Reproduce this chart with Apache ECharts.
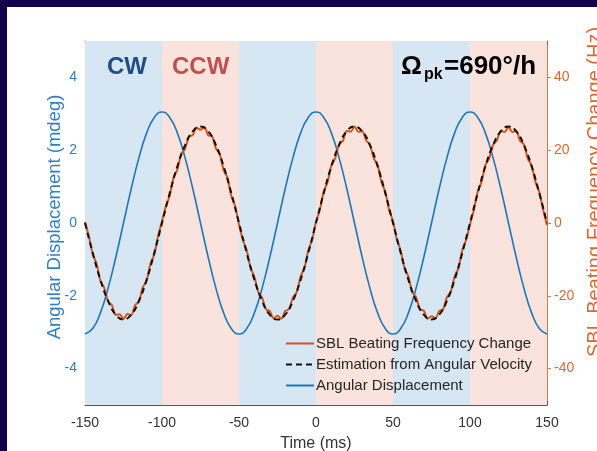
<!DOCTYPE html>
<html>
<head>
<meta charset="utf-8">
<script src="https://cdn.jsdelivr.net/npm/echarts@6/dist/echarts.min.js"></script>
<style>
  html, body { margin: 0; padding: 0; background: #ffffff; }
  #chart { width: 597px; height: 451px; }
</style>
</head>
<body>
<div id="chart"></div>
<script>
// Rotation direction bands (ms)
const bandStarts = [-150, -100, -50, 0, 50, 100];
const bandEnds   = [-100, -50, 0, 50, 100, 150];
const bandKinds  = ['CW', 'CCW', 'CW', 'CCW', 'CW', 'CCW'];

// Axis tick labels
const xTicks = [-150, -100, -50, 0, 50, 100, 150];
const leftTicks = [-4, -2, 0, 2, 4];
const rightTicks = [-40, -20, 0, 20, 40];

// Angular displacement (mdeg), sampled every 5 ms from -150 to 150
const displacement = [
  -3.05, -2.90, -2.47, -1.79, -0.94, 0.00, 0.94, 1.79, 2.47, 2.90,
   3.05,  2.90,  2.47,  1.79,  0.94, 0.00, -0.94, -1.79, -2.47, -2.90,
  -3.05, -2.90, -2.47, -1.79, -0.94, 0.00, 0.94, 1.79, 2.47, 2.90,
   3.05,  2.90,  2.47,  1.79,  0.94, 0.00, -0.94, -1.79, -2.47, -2.90,
  -3.05, -2.90, -2.47, -1.79, -0.94, 0.00, 0.94, 1.79, 2.47, 2.90,
   3.05,  2.90,  2.47,  1.79,  0.94, 0.00, -0.94, -1.79, -2.47, -2.90,
  -3.05
];

// Estimated frequency change from angular velocity (Hz), every 5 ms
const estimation = [
  0, -8.2, -15.6, -21.4, -25.2, -26.5, -25.2, -21.4, -15.6, -8.2,
  0,  8.2,  15.6,  21.4,  25.2,  26.5,  25.2,  21.4,  15.6,  8.2,
  0, -8.2, -15.6, -21.4, -25.2, -26.5, -25.2, -21.4, -15.6, -8.2,
  0,  8.2,  15.6,  21.4,  25.2,  26.5,  25.2,  21.4,  15.6,  8.2,
  0, -8.2, -15.6, -21.4, -25.2, -26.5, -25.2, -21.4, -15.6, -8.2,
  0,  8.2,  15.6,  21.4,  25.2,  26.5,  25.2,  21.4,  15.6,  8.2,
  0
];

// Measured SBL beating frequency change (Hz), every 2.5 ms
const beating = [
   0.3, -3.6, -8.5, -11.2, -15.9, -17.8, -21.6, -22.6, -25.3, -25.1,
  -26.4, -25.0, -25.3, -22.6, -21.6, -17.7, -15.9, -11.2, -8.6, -3.5,
   0.5,  4.6,  7.5,  12.4,  14.7,  19.0,  20.4,  23.7,  24.2,  26.2,
   25.6, 26.3, 24.1,  23.8,  20.5,  18.9,  14.6,  12.4,  7.4,  4.6,
  -0.4, -4.6, -7.5, -12.3, -14.8, -18.9, -20.5, -23.7, -24.2, -26.2,
  -25.5, -26.3, -24.2, -23.6, -20.5, -19.0, -14.7, -12.3, -7.5, -4.6,
   0.4,  3.6,  8.6,  11.2,  15.8,  17.8,  21.6,  22.6,  25.3,  25.1,
   26.5, 25.1, 25.2,  22.7,  21.5,  17.8,  15.9,  11.2,  8.6,  3.5,
   0.5, -4.5, -7.6, -12.4, -14.7, -19.0, -20.4, -23.7, -24.1, -26.3,
  -25.6, -26.2, -24.2, -23.7, -20.4, -18.9, -14.7, -12.4, -7.4, -4.6,
  -0.4,  3.5,  8.6,  11.3,  15.9,  17.8,  21.5,  22.7,  25.3,  25.0,
   26.4, 25.0, 25.3,  22.6,  21.6,  17.7,  15.8,  11.3,  8.5,  3.6,
  -0.6
];

// Sampling grids (ms)
const tCoarse = displacement.map((_, i) => -150 + 5 * i);
const tFine = beating.map((_, i) => -150 + 2.5 * i);
const pair = (ts, vs) => ts.map((t, i) => [t, vs[i]]);

const C_BLUE = '#1f77b8';
const C_ORANGE = '#d95319';
const C_BLUE_TXT = '#2f7fc1';
const C_ORANGE_TXT = '#d9692e';
const BAND_COLORS = { CW: '#d6e6f3', CCW: '#fae3dc' };
const FONT = '"Liberation Sans", Arial, sans-serif';

const chart = echarts.init(document.getElementById('chart'));

chart.setOption({
  backgroundColor: '#ffffff',
  animation: false,
  grid: { left: 85, right: 50, top: 41, bottom: 46, show: false, outerBoundsMode: 'none', containLabel: false },
  legend: {
    orient: 'vertical',
    left: 280,
    top: 331,
    itemWidth: 28,
    itemHeight: 14,
    itemGap: 6,
    itemStyle: { opacity: 0 },
    textStyle: { fontFamily: FONT, fontSize: 15, color: '#262626', padding: [0, 0, 0, -3] },
    data: ['SBL Beating Frequency Change', 'Estimation from Angular Velocity', 'Angular Displacement']
  },
  xAxis: [{
    type: 'value', min: -150, max: 150, interval: 50,
    name: 'Time (ms)', nameLocation: 'middle', nameGap: 31, nameMoveOverlap: false,
    nameTextStyle: { fontFamily: FONT, fontSize: 16, color: '#333' },
    axisLine: { show: true, onZero: false, lineStyle: { color: '#555', width: 1 } },
    axisTick: { show: true, inside: true, length: 4, lineStyle: { color: '#555' } },
    axisLabel: { fontFamily: FONT, fontSize: 14, color: '#333', margin: 11 },
    splitLine: { show: false }
  }, {
    type: 'value', min: -150, max: 150, interval: 50, position: 'top',
    axisLine: { show: true, onZero: false, lineStyle: { color: '#666', width: 1 } },
    axisTick: { show: true, inside: true, length: 4, lineStyle: { color: '#666' } },
    axisLabel: { show: false },
    splitLine: { show: false }
  }],
  yAxis: [{
    type: 'value', min: -5, max: 5, position: 'left',
    name: 'Angular Displacement (mdeg)', nameLocation: 'middle', nameGap: 21, nameRotate: 90,
    nameMoveOverlap: false,
    nameTextStyle: { fontFamily: FONT, fontSize: 18.5, color: C_BLUE_TXT, padding: [0, 0, 0, 12] },
    axisLine: { show: true, onZero: false, lineStyle: { color: '#3b87c6', width: 1 } },
    axisTick: { show: true, inside: true, length: 5, customValues: leftTicks, lineStyle: { color: '#3b87c6' } },
    axisLabel: { customValues: leftTicks, fontFamily: FONT, fontSize: 14, color: C_BLUE_TXT, margin: 8 },
    splitLine: { show: false }
  }, {
    type: 'value', min: -50, max: 50, position: 'right',
    axisLine: { show: true, onZero: false, lineStyle: { color: '#dd7a4a', width: 1 } },
    axisTick: { show: true, inside: false, length: 4, customValues: rightTicks, lineStyle: { color: '#dd7a4a' } },
    axisLabel: { customValues: rightTicks, fontFamily: FONT, fontSize: 14, color: C_ORANGE_TXT, margin: 7 },
    splitLine: { show: false }
  }],
  series: [{
    name: 'bands', type: 'line', data: [], silent: true, z: 0,
    markArea: {
      silent: true,
      data: bandStarts.map((s, i) => [
        { xAxis: s, itemStyle: { color: BAND_COLORS[bandKinds[i]], opacity: 1 } },
        { xAxis: bandEnds[i] }
      ])
    }
  }, {
    name: 'Angular Displacement', type: 'line', yAxisIndex: 0, z: 3,
    data: pair(tCoarse, displacement), smooth: true, symbol: 'none',
    lineStyle: { color: C_BLUE, width: 1.6 }, itemStyle: { color: C_BLUE }
  }, {
    name: 'SBL Beating Frequency Change', type: 'line', yAxisIndex: 1, z: 4,
    data: pair(tFine, beating), smooth: 0.3, symbol: 'none',
    lineStyle: { color: C_ORANGE, width: 2 }, itemStyle: { color: C_ORANGE }
  }, {
    name: 'Estimation from Angular Velocity', type: 'line', yAxisIndex: 1, z: 5,
    data: pair(tCoarse, estimation), smooth: true, symbol: 'none',
    lineStyle: { color: '#111111', width: 2, type: [6, 4] }, itemStyle: { color: '#111111' }
  }],
  graphic: [
    // dark frame along the top and left edges
    { type: 'rect', left: 0, top: 0, shape: { width: 597, height: 7 }, style: { fill: '#12024b' }, z: 100 },
    { type: 'rect', left: 0, top: 0, shape: { width: 7, height: 451 }, style: { fill: '#12024b' }, z: 100 },
    // right axis title
    {
      type: 'text', x: 595, y: 192, rotation: Math.PI / 2, z: 100,
      style: {
        text: 'SBL Beating Frequency Change (Hz)', fontFamily: FONT, fontSize: 20,
        fill: C_ORANGE_TXT, align: 'center', verticalAlign: 'middle'
      }
    },
    // rotation direction tags
    { type: 'text', x: 107, y: 67, z: 100, style: { text: 'CW', fontFamily: FONT, fontWeight: 'bold', fontSize: 24, fill: '#1f4e87', verticalAlign: 'middle' } },
    { type: 'text', x: 172, y: 67, z: 100, style: { text: 'CCW', fontFamily: FONT, fontWeight: 'bold', fontSize: 24, fill: '#c0504d', verticalAlign: 'middle' } },
    // peak rate annotation
    { type: 'text', x: 401, y: 67, z: 100, style: { text: 'Ω', fontFamily: FONT, fontWeight: 'bold', fontSize: 26, fill: '#000', verticalAlign: 'middle' } },
    { type: 'text', x: 424, y: 75, z: 100, style: { text: 'pk', fontFamily: FONT, fontWeight: 'bold', fontSize: 16, fill: '#000', verticalAlign: 'middle' } },
    { type: 'text', x: 444, y: 67, z: 100, style: { text: '=690°/h', fontFamily: FONT, fontWeight: 'bold', fontSize: 26, fill: '#000', verticalAlign: 'middle' } }
  ]
});
</script>
</body>
</html>
